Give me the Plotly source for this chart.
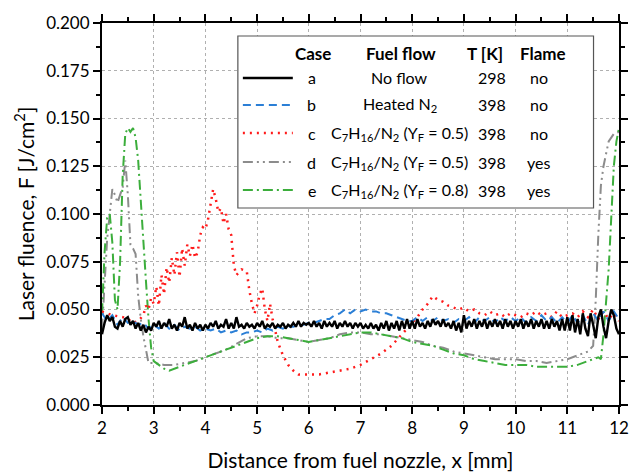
import plotly.graph_objects as go

# ---------------- data ----------------
# Case a: no flow (sampled every 0.05 mm from 2 to 12)
x_a = [round(2 + 0.05 * i, 2) for i in range(201)]
y_a = [
    0.037, 0.043, 0.047, 0.044, 0.046, 0.041, 0.040, 0.044, 0.041, 0.045, 0.046, 0.042, 0.044, 0.040, 0.043, 0.039, 0.042, 0.038, 0.041, 0.039,
    0.043, 0.041, 0.044, 0.040, 0.043, 0.041, 0.045, 0.040, 0.042, 0.039, 0.043, 0.041, 0.046, 0.040, 0.042, 0.039, 0.043, 0.040, 0.042, 0.039,
    0.042, 0.040, 0.043, 0.041, 0.044, 0.040, 0.042, 0.041, 0.045, 0.040, 0.043, 0.040, 0.046, 0.041, 0.042, 0.040, 0.043, 0.041, 0.042, 0.040,
    0.043, 0.041, 0.044, 0.040, 0.042, 0.041, 0.043, 0.040, 0.042, 0.041, 0.043, 0.040, 0.042, 0.041, 0.043, 0.041, 0.044, 0.041, 0.043, 0.042,
    0.043, 0.041, 0.044, 0.041, 0.043, 0.040, 0.044, 0.041, 0.043, 0.041, 0.044, 0.040, 0.043, 0.041, 0.044, 0.041, 0.043, 0.040, 0.043, 0.041,
    0.043, 0.040, 0.042, 0.040, 0.043, 0.040, 0.042, 0.039, 0.043, 0.040, 0.044, 0.039, 0.043, 0.040, 0.044, 0.039, 0.044, 0.040, 0.045, 0.040,
    0.044, 0.040, 0.045, 0.041, 0.043, 0.040, 0.044, 0.041, 0.045, 0.042, 0.044, 0.041, 0.045, 0.041, 0.043, 0.040, 0.044, 0.039, 0.043, 0.038,
    0.047, 0.040, 0.044, 0.041, 0.045, 0.040, 0.044, 0.041, 0.045, 0.040, 0.044, 0.041, 0.045, 0.041, 0.044, 0.040, 0.045, 0.041, 0.044, 0.040,
    0.044, 0.041, 0.045, 0.040, 0.044, 0.041, 0.045, 0.040, 0.044, 0.041, 0.045, 0.040, 0.044, 0.040, 0.045, 0.041, 0.044, 0.039, 0.045, 0.039,
    0.046, 0.039, 0.047, 0.038, 0.045, 0.037, 0.048, 0.040, 0.036, 0.048, 0.042, 0.035, 0.046, 0.050, 0.041, 0.035, 0.044, 0.050, 0.047, 0.040,
    0.037,
]

# Case b: heated N2
x_b = [2.0, 2.1, 2.2, 2.3, 2.4, 2.5, 2.6, 2.7, 2.8, 2.9, 3.0, 3.1, 3.2, 3.3, 3.4, 3.5, 3.6, 3.7, 3.8, 3.9,
       4.0, 4.1, 4.2, 4.3, 4.4, 4.5, 4.6, 4.7, 4.8, 4.9, 5.0, 5.1, 5.2, 5.3, 5.4, 5.5, 5.6, 5.7, 5.8, 5.9,
       6.0, 6.1, 6.2, 6.3, 6.4, 6.5, 6.6, 6.7, 6.8, 6.9, 7.0, 7.1, 7.2, 7.3, 7.4, 7.5, 7.6, 7.7, 7.8, 7.9,
       8.0, 8.1, 8.2, 8.3, 8.4, 8.5, 8.6, 8.7, 8.8, 8.9, 9.0, 9.1, 9.2, 9.3, 9.4, 9.5, 9.6, 9.7, 9.8, 9.9,
       10.0, 10.1, 10.2, 10.3, 10.4, 10.5, 10.6, 10.7, 10.8, 10.9, 11.0, 11.1, 11.2, 11.3, 11.4, 11.5, 11.6, 11.7, 11.8, 11.9, 12.0]
y_b = [0.048, 0.044, 0.047, 0.042, 0.046, 0.043, 0.044, 0.042, 0.043, 0.040, 0.042, 0.040, 0.043, 0.040, 0.042, 0.039, 0.041, 0.040, 0.041, 0.039,
       0.040, 0.039, 0.040, 0.038, 0.039, 0.038, 0.039, 0.037, 0.038, 0.038, 0.039, 0.038, 0.040, 0.039, 0.041, 0.040, 0.041, 0.041, 0.042, 0.042,
       0.043, 0.043, 0.044, 0.045, 0.045, 0.047, 0.048, 0.050, 0.048, 0.050, 0.049, 0.050, 0.049, 0.049, 0.048, 0.048, 0.047, 0.046, 0.045, 0.044,
       0.044, 0.046, 0.044, 0.046, 0.044, 0.046, 0.044, 0.045, 0.043, 0.045, 0.044, 0.046, 0.043, 0.046, 0.044, 0.046, 0.043, 0.046, 0.044, 0.046,
       0.044, 0.046, 0.043, 0.046, 0.044, 0.047, 0.044, 0.046, 0.043, 0.046, 0.043, 0.047, 0.043, 0.047, 0.042, 0.048, 0.044, 0.049, 0.044, 0.049, 0.045]

# Case c: C7H16/N2 (YF = 0.5), no flame
x_c = [2.0, 2.2, 2.4, 2.5, 2.6, 2.7, 2.8, 2.85, 2.9, 2.95, 3.0, 3.05, 3.1, 3.15, 3.2, 3.25, 3.3, 3.35, 3.4, 3.45,
       3.5, 3.55, 3.6, 3.65, 3.7, 3.75, 3.8, 3.85, 3.9, 3.95, 4.0, 4.05, 4.1, 4.15, 4.2, 4.25, 4.3, 4.35, 4.4, 4.45,
       4.5, 4.55, 4.6, 4.7, 4.8, 4.85, 4.9, 4.95, 5.0, 5.05, 5.1, 5.15, 5.2, 5.25, 5.3, 5.35, 5.4, 5.5, 5.6, 5.7,
       5.8, 6.0, 6.2, 6.4, 6.6, 6.8, 7.0, 7.2, 7.4, 7.6, 7.8, 8.0, 8.1, 8.2, 8.3, 8.4, 8.5, 8.6, 8.7, 8.8,
       8.9, 9.0, 9.1, 9.2, 9.3, 9.4, 9.5, 9.6, 9.7, 9.8, 9.9, 10.0, 10.1, 10.2, 10.3, 10.4, 10.5, 10.6, 10.7, 10.8,
       10.9, 11.0, 11.1, 11.2, 11.3, 11.4, 11.5, 11.6, 11.7, 11.8, 11.9, 12.0]
y_c = [0.049, 0.047, 0.046, 0.045, 0.043, 0.044, 0.047, 0.052, 0.050, 0.056, 0.053, 0.062, 0.052, 0.068, 0.058, 0.072, 0.064, 0.077, 0.068, 0.080,
       0.067, 0.082, 0.073, 0.084, 0.078, 0.084, 0.077, 0.080, 0.089, 0.093, 0.092, 0.097, 0.105, 0.113, 0.108, 0.101, 0.103, 0.095, 0.100, 0.092,
       0.089, 0.073, 0.068, 0.071, 0.070, 0.060, 0.053, 0.048, 0.052, 0.058, 0.061, 0.050, 0.044, 0.053, 0.045, 0.038, 0.033, 0.026, 0.021, 0.018,
       0.016, 0.016, 0.016, 0.017, 0.018, 0.019, 0.021, 0.024, 0.027, 0.031, 0.037, 0.043, 0.046, 0.050, 0.053, 0.057, 0.055, 0.054, 0.052, 0.051,
       0.050, 0.051, 0.049, 0.050, 0.048, 0.047, 0.049, 0.047, 0.048, 0.046, 0.048, 0.047, 0.046, 0.048, 0.047, 0.049, 0.047, 0.048, 0.046, 0.049,
       0.046, 0.047, 0.048, 0.046, 0.049, 0.046, 0.050, 0.045, 0.049, 0.045, 0.048, 0.044]

# Case d: C7H16/N2 (YF = 0.5), flame
x_d = [2.0, 2.05, 2.1, 2.15, 2.2, 2.25, 2.3, 2.35, 2.4, 2.45, 2.5, 2.55, 2.6, 2.65, 2.7, 2.75, 2.8, 2.9, 3.0, 3.2,
       3.4, 3.6, 3.8, 4.0, 4.2, 4.4, 4.6, 4.8, 5.0, 5.2, 5.4, 5.6, 5.8, 6.0, 6.2, 6.4, 6.6, 6.8, 7.0, 7.2,
       7.4, 7.6, 7.8, 8.0, 8.2, 8.4, 8.6, 8.8, 9.0, 9.2, 9.4, 9.6, 9.8, 10.0, 10.2, 10.4, 10.6, 10.8, 11.0, 11.2,
       11.4, 11.5, 11.55, 11.6, 11.65, 11.7, 11.8, 11.9, 12.0]
y_d = [0.040, 0.062, 0.087, 0.100, 0.113, 0.110, 0.106, 0.110, 0.114, 0.128, 0.110, 0.084, 0.082, 0.079, 0.057, 0.045, 0.036, 0.022, 0.022, 0.021,
       0.021, 0.022, 0.023, 0.025, 0.027, 0.029, 0.032, 0.035, 0.036, 0.036, 0.035, 0.035, 0.034, 0.033, 0.034, 0.035, 0.037, 0.038, 0.038, 0.037,
       0.037, 0.036, 0.035, 0.034, 0.033, 0.031, 0.030, 0.028, 0.027, 0.026, 0.025, 0.024, 0.024, 0.024, 0.023, 0.023, 0.022, 0.023, 0.024, 0.026,
       0.028, 0.031, 0.055, 0.089, 0.115, 0.125, 0.138, 0.142, 0.143]

# Case e: C7H16/N2 (YF = 0.8), flame
x_e = [2.0, 2.05, 2.1, 2.15, 2.2, 2.25, 2.3, 2.35, 2.4, 2.45, 2.5, 2.55, 2.6, 2.65, 2.7, 2.75, 2.8, 2.85, 2.9, 2.95,
       3.0, 3.1, 3.2, 3.3, 3.4, 3.5, 3.6, 3.7, 3.8, 4.0, 4.2, 4.4, 4.6, 4.8, 5.0, 5.2, 5.4, 5.6, 5.8, 6.0,
       6.2, 6.4, 6.6, 6.8, 7.0, 7.2, 7.4, 7.6, 7.8, 8.0, 8.2, 8.4, 8.6, 8.8, 9.0, 9.2, 9.4, 9.6, 9.8, 10.0,
       10.2, 10.4, 10.6, 10.8, 11.0, 11.2, 11.4, 11.6, 11.65, 11.7, 11.8, 11.85, 11.9, 11.95, 12.0]
y_e = [0.048, 0.080, 0.098, 0.100, 0.085, 0.055, 0.050, 0.075, 0.120, 0.142, 0.145, 0.143, 0.145, 0.140, 0.128, 0.105, 0.088, 0.065, 0.045, 0.030,
       0.023, 0.021, 0.019, 0.018, 0.019, 0.020, 0.021, 0.022, 0.023, 0.025, 0.027, 0.029, 0.031, 0.033, 0.035, 0.036, 0.036, 0.035, 0.034, 0.033,
       0.034, 0.035, 0.036, 0.037, 0.038, 0.038, 0.037, 0.036, 0.035, 0.033, 0.032, 0.031, 0.029, 0.027, 0.026, 0.024, 0.023, 0.022, 0.021, 0.021,
       0.021, 0.020, 0.020, 0.020, 0.020, 0.021, 0.023, 0.025, 0.024, 0.037, 0.071, 0.100, 0.125, 0.138, 0.145]

# legend table text
case_ids = ["a", "b", "c", "d", "e"]
fuel_flow = ["No flow", "Heated N<sub>2</sub>",
             "C<sub>7</sub>H<sub>16</sub>/N<sub>2</sub> (Y<sub>F</sub> = 0.5)",
             "C<sub>7</sub>H<sub>16</sub>/N<sub>2</sub> (Y<sub>F</sub> = 0.5)",
             "C<sub>7</sub>H<sub>16</sub>/N<sub>2</sub> (Y<sub>F</sub> = 0.8)"]
temps = ["298", "398", "398", "398", "398"]
flames = ["no", "no", "no", "yes", "yes"]
headers = ["Case", "Fuel flow", "T [K]", "Flame"]

# ---------------- styling ----------------
FONT = "Lato"
colors = ["#000000", "#2b7fd6", "#ff1a1a", "#8c8c8c", "#3cae3c"]
dashes = ["solid", "8px,5px", "2px,5px", "10px,4px,2px,4px,2px,4px", "10px,4px,2px,4px"]
widths = [2.4, 2.0, 2.5, 2.0, 2.0]

fig = go.Figure()
series = [(x_a, y_a), (x_b, y_b), (x_c, y_c), (x_d, y_d), (x_e, y_e)]
order = [3, 4, 2, 1, 0]
for i in order:
    xs, ys = series[i]
    fig.add_trace(go.Scatter(x=xs, y=ys, mode="lines", showlegend=False,
                             line=dict(color=colors[i], dash=dashes[i], width=widths[i])))

# page has an 8px body margin: compensate so plot box lands where the reference has it
OFF = 8
W, H = 640 - OFF, 474 - OFF
L, R, T, B = 102, 619.5, 23, 405   # plot box in page pixels
def px(p):
    return (p - L) / (R - L)
def py(p):
    return (B - p) / (B - T)

shapes = [dict(type="rect", xref="paper", yref="paper",
               x0=px(238), x1=px(594), y0=py(208), y1=py(36),
               line=dict(color="#555555", width=1.2), fillcolor="white", layer="above")]
annotations = []
header_x = [313, 401, 485, 543]
for hx, h in zip(header_x, headers):
    annotations.append(dict(xref="paper", yref="paper", x=px(hx), y=py(53), text="<b>" + h + "</b>",
                            showarrow=False, xanchor="center", yanchor="middle",
                            font=dict(family=FONT, size=17, color="black")))
row_y = [78, 105, 133, 162, 190]
for k in range(5):
    yy = py(row_y[k])
    shapes.append(dict(type="line", xref="paper", yref="paper", x0=px(243), x1=px(293), y0=yy, y1=yy,
                       line=dict(color=colors[k], dash=dashes[k], width=widths[k]), layer="above"))
    for cx, txt in [(312, case_ids[k]), (400, fuel_flow[k]), (492, temps[k]), (539, flames[k])]:
        annotations.append(dict(xref="paper", yref="paper", x=px(cx), y=yy, text=txt,
                                showarrow=False, xanchor="center", yanchor="middle",
                                font=dict(family=FONT, size=16, color="black")))

axis_common = dict(showline=True, linecolor="black", linewidth=2, mirror="allticks",
                   ticks="outside", ticklen=7, tickwidth=1.5, tickcolor="black",
                   showgrid=True, gridcolor="#b0b0b0", gridwidth=1, griddash="3px,3px",
                   zeroline=False, automargin=False,
                   tickfont=dict(family=FONT, size=17, color="black"))

fig.update_xaxes(range=[2, 12], dtick=1, tick0=2,
                 minor=dict(ticks="outside", ticklen=4, dtick=0.5, tickcolor="black", showgrid=False),
                 title=dict(text="Distance from fuel nozzle, x [mm]", font=dict(family=FONT, size=21, color="black"),
                            standoff=16),
                 **axis_common)
fig.update_yaxes(range=[0, 0.2], dtick=0.025, tick0=0, tickformat=".3f",
                 minor=dict(ticks="outside", ticklen=4, dtick=0.0125, tickcolor="black", showgrid=False),
                 title=dict(text="Laser fluence, F [J/cm<sup>2</sup>]", font=dict(family=FONT, size=21, color="black"),
                            standoff=6),
                 **axis_common)

fig.update_layout(width=W, height=H,
                  margin=dict(l=L - OFF, r=(OFF + W) - R, t=T - OFF, b=(OFF + H) - B),
                  plot_bgcolor="white", paper_bgcolor="white",
                  shapes=shapes, annotations=annotations,
                  font=dict(family=FONT, size=16, color="black"))

fig.write_html("out.html")
